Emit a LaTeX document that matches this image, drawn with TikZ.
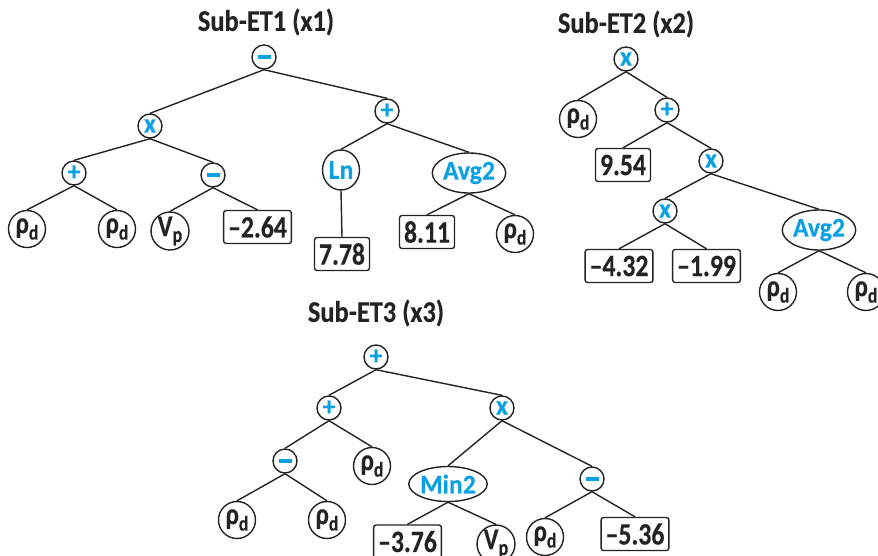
\documentclass[tikz,border=0pt]{standalone}
\usepackage{fontspec}
\newfontfamily\numfont[FakeStretch=0.83,FakeBold=0.4]{Carlito}
\newfontfamily\fnfont[FakeStretch=0.95,FakeBold=0.3]{Carlito}
\newfontfamily\ttlfont[FakeStretch=0.88,FakeBold=0.3]{Carlito}
\usetikzlibrary{shapes.geometric}
\definecolor{opblue}{RGB}{10,160,228}
\definecolor{ink}{RGB}{35,35,35}
\newcommand\fsz[1]{\fontsize{#1}{#1}\selectfont}
\newcommand\rhod{ρ\raisebox{-6.5pt}{\fsz{21}d}}
\newcommand\vpl{V\raisebox{-6pt}{\fsz{22}p}}
\newcommand\opminus{\rule[-2pt]{13pt}{4pt}}
\tikzset{
  op/.style={circle, draw=ink, line width=1.4pt, minimum size=24pt, inner sep=0pt,
    text=opblue, font=\fnfont\bfseries\fsz{27}},
  leaf/.style={circle, draw=ink, line width=1.4pt, minimum size=37pt, inner sep=0pt,
    text=ink, font=\numfont\bfseries\fsz{30}},
  fn/.style={ellipse, draw=ink, line width=1.4pt, minimum width=72pt, minimum height=40pt,
    inner sep=0pt, text=opblue, font=\fnfont\bfseries\fsz{27}},
  num/.style={rectangle, rounded corners=2.5pt, draw=ink, line width=1.4pt, minimum height=33pt,
    inner xsep=4.5pt, inner ysep=0pt, text=ink, font=\numfont\bfseries\fsz{31}},
  ttl/.style={text=ink, inner sep=0pt, font=\ttlfont\bfseries\fsz{30}},
  edge/.style={draw=ink, line width=1.4pt},
}
\begin{document}
\begin{tikzpicture}[x=1pt,y=-1pt]
\useasboundingbox (0,0) rectangle (878,555);
% ---------------- Sub-ET1
\node[ttl] (pt) at (266,22) {Sub-ET1 (x1)};
\node[op] (pa) at (264,57) {\opminus};
\node[op] (pb) at (150,126) {x};
\node[op] (pc) at (387,111) {+};
\node[op] (pd) at (74,173) {+};
\node[op] (pe) at (213,175) {\opminus};
\node[leaf] (pf) at (27,229) {\rhod};
\node[leaf] (pg) at (117,229) {\rhod};
\node[leaf] (ph) at (170,231) {\vpl};
\node[num] (pi) at (257.5,227) {–2.64};
\node[fn, minimum width=37pt] (pj) at (341,170) {Ln};
\node[fn] (pk) at (469,173) {Avg2};
\node[num] (pl) at (342,254) {7.78};
\node[num] (pm) at (427,232) {8.11};
\node[leaf] (pn) at (515,234) {\rhod};
\draw[edge] (pa.south) -- (pb.north);
\draw[edge] (pa.south) -- (pc.north);
\draw[edge] (pb.south) -- (pd.north);
\draw[edge] (pb.south) -- (pe.north);
\draw[edge] (pd.south) -- (pf.north);
\draw[edge] (pd.south) -- (pg.north);
\draw[edge] (pe.south) -- (ph.north);
\draw[edge] (pe.south) -- (pi.north);
\draw[edge] (pc.south) -- (pj.north);
\draw[edge] (pc.south) -- (pk.north);
\draw[edge] (pj.south) -- (pl.north);
\draw[edge] (pk.south) -- (pm.north);
\draw[edge] (pk.south) -- (pn.north);
% ---------------- Sub-ET2
\node[ttl] (qt) at (626,24) {Sub-ET2 (x2)};
\node[op] (qa) at (626,59) {x};
\node[leaf] (qb) at (578,119) {\rhod};
\node[op] (qc) at (667,110) {+};
\node[num] (qd) at (623,165) {9.54};
\node[op] (qe) at (711,161) {x};
\node[op] (qf) at (665,211) {x};
\node[fn] (qg) at (819,230) {Avg2};
\node[num] (qh) at (619,266) {–4.32};
\node[num] (qi) at (706.5,266) {–1.99};
\node[leaf] (qj) at (778,292) {\rhod};
\node[leaf] (qk) at (866,292) {\rhod};
\draw[edge] (qa.south) -- (qb.north);
\draw[edge] (qa.south) -- (qc.north);
\draw[edge] (qc.south) -- (qd.north);
\draw[edge] (qc.south) -- (qe.north);
\draw[edge] (qe.south) -- (qf.north);
\draw[edge] (qe.south) -- (qg.north);
\draw[edge] (qf.south) -- (qh.north);
\draw[edge] (qf.south) -- (qi.north);
\draw[edge] (qg.south) -- (qj.north);
\draw[edge] (qg.south) -- (qk.north);
% ---------------- Sub-ET3
\node[ttl] (rt) at (376,313) {Sub-ET3 (x3)};
\node[op] (ra) at (376,357) {+};
\node[op] (rb) at (329,408) {+};
\node[op] (rc) at (502,408) {x};
\node[op] (rd) at (285,461) {\opminus};
\node[leaf] (re) at (372,466) {\rhod};
\node[fn, minimum height=35pt] (rf) at (448,484) {Min2};
\node[op] (rg) at (592,479) {\opminus};
\node[leaf] (rh) at (237,520) {\rhod};
\node[leaf] (ri) at (327,520) {\rhod};
\node[num] (rj) at (407.5,541.5) {–3.76};
\node[leaf] (rk) at (496,544) {\vpl};
\node[leaf] (rl) at (545,537) {\rhod};
\node[num] (rm) at (635,534) {–5.36};
\draw[edge] (ra.south) -- (rb.north);
\draw[edge] (ra.south) -- (rc.north);
\draw[edge] (rb.south) -- (rd.north);
\draw[edge] (rb.south) -- (re.north);
\draw[edge] (rd.south) -- (rh.north);
\draw[edge] (rd.south) -- (ri.north);
\draw[edge] (rc.south) -- (rf.north);
\draw[edge] (rc.south) -- (rg.north);
\draw[edge] (rf.south) -- (rj.north);
\draw[edge] (rf.south) -- (rk.north);
\draw[edge] (rg.south) -- (rl.north);
\draw[edge] (rg.south) -- (rm.north);
\end{tikzpicture}
\end{document}
